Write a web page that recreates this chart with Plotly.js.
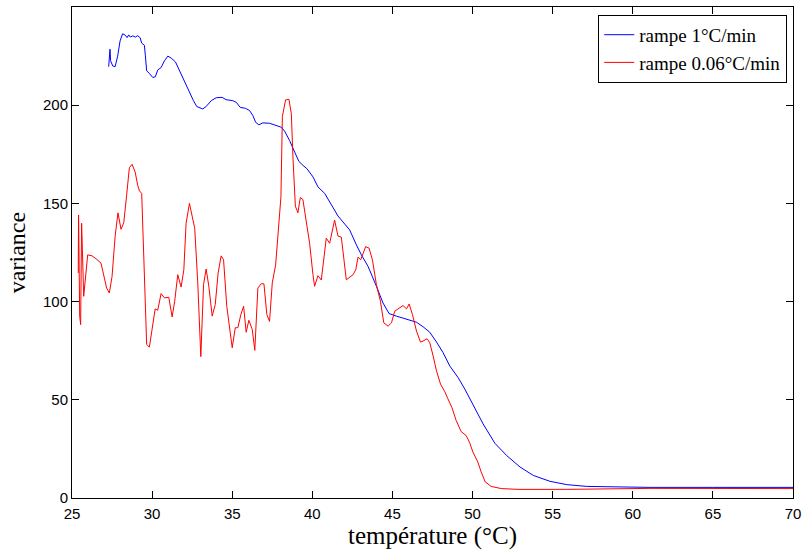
<!DOCTYPE html>
<html>
<head>
<meta charset="utf-8">
<script src="https://cdn.plot.ly/plotly-3.0.1.min.js"></script>
<style>html,body{margin:0;padding:0;background:#fff;}#chart{width:806px;height:558px;}</style>
</head>
<body>
<div id="chart"></div>
<script>
// rampe 1°C/min
const tempFast = [27.29,27.37,27.41,27.54,27.69,27.85,28.0,28.16,28.33,28.44,28.54,28.64,28.79,28.96,29.1,29.25,29.35,29.52,29.58,29.66,29.83,30.04,30.2,30.35,30.56,30.77,30.98,31.19,31.46,31.71,32.02,32.33,32.58,32.79,33.16,33.37,33.69,34.0,34.37,34.62,35.04,35.25,35.5,35.83,36.08,36.29,36.46,36.66,36.91,37.33,37.75,38.06,38.27,38.58,38.9,39.16,39.41,39.66,40.04,40.35,40.77,41.19,41.6,42.02,42.33,42.75,43.06,43.48,43.83,44.0,44.41,44.79,45.25,45.88,46.5,46.91,47.33,47.75,48.16,48.58,49.1,49.52,50.04,50.66,51.39,52.13,52.96,53.79,54.83,55.88,57.13,59.0,61.08,65.0,70.0];
const varFast = [219.6,228.5,222.6,220,219.6,225,232.7,236.4,235.6,234.4,235.8,234.7,235.3,234.7,235.4,234.4,231.6,230.5,225.1,217.5,216.2,214.1,214.5,217.9,219.2,222.6,225,224,222,217.5,211.6,206.5,202.3,199.3,198.1,199.3,202.3,203.8,204,202.8,202.3,201.5,198.9,198.4,197.3,194.7,191.3,190,191,190.8,189.7,188.8,186.8,182,176.1,171.4,169.4,167.7,163.5,158.4,155.1,149.1,143.6,139.5,136.5,128.9,123.8,117.9,111.5,107.8,99.3,93.9,92.6,90.9,89.5,87.2,84.4,79.4,74.0,67.2,61.3,55.4,47.0,37.7,27.9,21.6,15.8,11.5,8.5,6.8,5.9,5.6,5.4,5.4,5.4];

// rampe 0.06°C/min
const tempSlow = [25.39,25.41,25.48,25.54,25.6,25.73,25.98,26.25,26.5,26.81,27.02,27.16,27.33,27.5,27.69,27.87,28.06,28.23,28.41,28.58,28.75,28.94,29.1,29.21,29.35,29.66,29.83,30.0,30.19,30.35,30.56,30.77,31.04,31.25,31.41,31.6,31.81,31.98,32.12,32.33,32.5,32.66,32.85,33.04,33.21,33.37,33.54,33.75,33.94,34.12,34.31,34.46,34.66,34.83,35.0,35.19,35.35,35.54,35.71,35.87,36.04,36.25,36.41,36.6,36.81,36.98,37.16,37.33,37.5,37.71,37.91,38.04,38.13,38.33,38.54,38.69,38.79,38.94,39.1,39.25,39.41,39.62,39.83,40.04,40.14,40.35,40.56,40.87,41.08,41.39,41.6,41.81,42.12,42.54,42.71,42.85,43.02,43.33,43.54,43.75,44.0,44.25,44.46,44.73,44.94,45.14,45.46,45.66,45.88,46.04,46.25,46.5,46.75,46.91,47.16,47.33,47.54,47.75,48.0,48.27,48.45,48.71,48.98,49.29,49.6,49.81,50.02,50.33,50.54,50.79,51.16,51.79,52.83,55.88,61.08,65.0,70.0];
const varSlow = [114.5,144.1,92.6,88.3,139.9,102.7,123.8,123.3,121.8,119.6,112,106.9,104.4,112.8,133.1,145.2,136.8,140.2,154.2,168.2,169.9,166,159.3,156.4,155.1,78.2,76.8,85.8,96.3,95.6,104.1,101.9,102.2,92.2,100.2,113.7,107.4,116.2,139.9,150,144.1,137.3,109.5,72,108.6,116.6,107.8,92.6,98.5,114.5,123.3,121.3,97.6,87.5,76.5,86.7,86.7,93.4,97.6,84.4,90.5,85.8,75.2,106.9,109.1,109,93.4,89.9,109.5,118.7,140.7,153.3,194.2,202.7,203,195.6,173.6,148.6,145.2,153,152,139.9,129.7,113.7,107.8,113.2,111,132.3,129.7,141.5,133.4,132.8,111.1,113.7,116.2,122.6,121.3,128,127.2,121.3,108.6,100.2,89.2,87.5,89.2,95.1,96.8,98,96.3,98.8,93.4,85,79.4,79.9,81.1,79.1,72.3,64.7,58,54.1,50.7,46.1,39.4,33.8,31.8,28.4,23.4,18.3,13.2,8.2,5.9,4.8,4.4,4.4,4.9,4.8,4.8];

const xTicks = [25,30,35,40,45,50,55,60,65,70];
const yTicks = [0,50,100,150,200,250];

const serif = 'Liberation Serif, Times New Roman, serif';
const sans = 'Liberation Sans, Arial, sans-serif';

const traces = [
  {x: tempFast, y: varFast, type: 'scatter', mode: 'lines', name: 'rampe 1°C/min',
   line: {color: '#0000ff', width: 1}},
  {x: tempSlow, y: varSlow, type: 'scatter', mode: 'lines', name: 'rampe 0.06°C/min',
   line: {color: '#ff0000', width: 1}}
];

const axisCommon = {
  showline: true, linecolor: '#000', linewidth: 1, mirror: 'ticks',
  ticks: 'inside', ticklen: 7, tickcolor: '#000', tickwidth: 1,
  showgrid: false, zeroline: false,
  tickfont: {family: sans, size: 15, color: '#000'}
};

const layout = {
  width: 806, height: 558,
  margin: {l: 72, r: 13, t: 7, b: 60},
  paper_bgcolor: '#fff', plot_bgcolor: '#fff',
  font: {family: serif, color: '#000'},
  xaxis: Object.assign({}, axisCommon, {
    range: [25, 70], tickvals: xTicks, ticktext: xTicks.map(String),
    ticklabelstandoff: 2,
    title: {text: 'température (°C)', font: {family: serif, size: 25, color: '#000'}, standoff: 5}
  }),
  yaxis: Object.assign({}, axisCommon, {
    range: [0, 250], tickvals: yTicks, ticktext: yTicks.map(String),
    title: {text: 'variance', font: {family: serif, size: 24, color: '#000'}, standoff: 10}
  }),
  legend: {
    x: 0.992, y: 0.984, xanchor: 'right', yanchor: 'top',
    bgcolor: '#fff', bordercolor: '#000', borderwidth: 1,
    font: {family: serif, size: 19, color: '#000'},
    tracegroupgap: 0, itemwidth: 30
  },
  showlegend: true
};

Plotly.newPlot('chart', traces, layout, {displayModeBar: false, staticPlot: true});
</script>
</body>
</html>
